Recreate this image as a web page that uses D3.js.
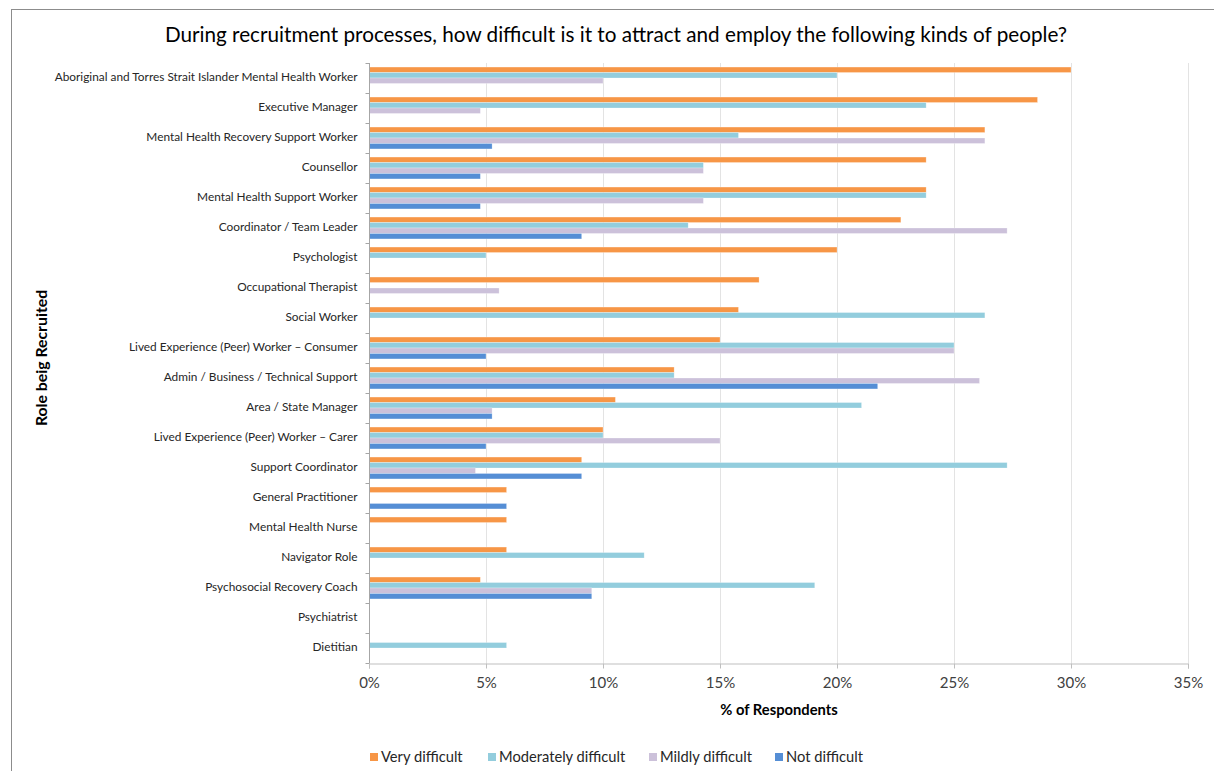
<!DOCTYPE html>
<html>
<head>
<meta charset="utf-8">
<script src="https://cdn.jsdelivr.net/npm/d3@7"></script>
<style>
  html, body { margin: 0; padding: 0; background: #fff; }
  svg { display: block; font-family: Lato, "Open Sans", "Noto Sans", sans-serif; }
</style>
</head>
<body>
<svg id="chart" width="1214" height="771"></svg>
<script>
// Roles, top to bottom
const roles = [
  "Aboriginal and Torres Strait Islander Mental Health Worker",
  "Executive Manager",
  "Mental Health Recovery Support Worker",
  "Counsellor",
  "Mental Health Support Worker",
  "Coordinator / Team Leader",
  "Psychologist",
  "Occupational Therapist",
  "Social Worker",
  "Lived Experience (Peer) Worker \u2013 Consumer",
  "Admin / Business / Technical Support",
  "Area / State Manager",
  "Lived Experience (Peer) Worker \u2013 Carer",
  "Support Coordinator",
  "General Practitioner",
  "Mental Health Nurse",
  "Navigator Role",
  "Psychosocial Recovery Coach",
  "Psychiatrist",
  "Dietitian"
];

const seriesNames = ["Very difficult", "Moderately difficult", "Mildly difficult", "Not difficult"];
const seriesColors = ["#F79646", "#93CDDD", "#CCC1DA", "#558ED5"];

// % of respondents per role
const veryDifficult       = [30.0, 28.57, 26.32, 23.81, 23.81, 22.73, 20.0, 16.67, 15.79, 15.0, 13.04, 10.53, 10.0, 9.09, 5.88, 5.88, 5.88, 4.76, 0, 0];
const moderatelyDifficult = [20.0, 23.81, 15.79, 14.29, 23.81, 13.64, 5.0, 0, 26.32, 25.0, 13.04, 21.05, 10.0, 27.27, 0, 0, 11.76, 19.05, 0, 5.88];
const mildlyDifficult     = [10.0, 4.76, 26.32, 14.29, 14.29, 27.27, 0, 5.56, 0, 25.0, 26.09, 5.26, 15.0, 4.55, 0, 0, 0, 9.52, 0, 0];
const notDifficult        = [0, 0, 5.26, 4.76, 4.76, 9.09, 0, 0, 0, 5.0, 21.74, 5.26, 5.0, 9.09, 5.88, 0, 0, 9.52, 0, 0];

const xTicks = [0, 5, 10, 15, 20, 25, 30, 35];

const seriesValues = [veryDifficult, moderatelyDifficult, mildlyDifficult, notDifficult];
const rows = roles.map((role, i) => ({
  role,
  values: seriesNames.map((s, k) => ({ series: s, k, value: seriesValues[k][i] }))
}));

const svg = d3.select("#chart");
const W = 1214, H = 771;
const m = { left: 369, right: 26, top: 63, bottom: 108 };

// chart frame
svg.append("rect")
  .attr("x", 11.5).attr("y", 9.5)
  .attr("width", W + 10).attr("height", H + 10)
  .attr("fill", "none").attr("stroke", "#8c8c8c").attr("stroke-width", 1);

const x = d3.scaleLinear().domain([0, 35]).range([m.left, W - m.right]);
const y = d3.scaleBand().domain(roles).range([m.top, H - m.bottom]).padding(0);
const inner = d3.scaleBand().domain(seriesNames)
  .range([y.bandwidth() * 0.135, y.bandwidth() * 0.865]).padding(0);
const color = d3.scaleOrdinal().domain(seriesNames).range(seriesColors);

// vertical gridlines
svg.append("g")
  .selectAll("line")
  .data(xTicks.slice(1))
  .join("line")
  .attr("x1", d => Math.round(x(d)) + 0.5).attr("x2", d => Math.round(x(d)) + 0.5)
  .attr("y1", m.top).attr("y2", H - m.bottom)
  .attr("stroke", "#e3e3e3").attr("stroke-width", 1);

// bars
const groups = svg.append("g")
  .selectAll("g")
  .data(rows)
  .join("g")
  .attr("transform", d => `translate(0,${y(d.role)})`);

groups.selectAll("rect")
  .data(d => d.values.filter(v => v.value > 0))
  .join("rect")
  .attr("x", x(0))
  .attr("y", d => inner(d.series))
  .attr("width", d => x(d.value) - x(0))
  .attr("height", inner.bandwidth())
  .attr("fill", d => color(d.series))
  .attr("stroke", "#ffffff").attr("stroke-opacity", 0.45).attr("stroke-width", 0.6);

// x axis
const xAxis = d3.axisBottom(x).tickValues(xTicks).tickFormat(d => d + "%").tickSize(5).tickPadding(9);
const gx = svg.append("g")
  .attr("transform", `translate(0,${H - m.bottom + 0.5})`)
  .call(xAxis);
gx.select(".domain").attr("stroke", "#bfbfbf");
gx.selectAll(".tick line").attr("stroke", "#bfbfbf");
gx.selectAll(".tick text")
  .attr("fill", "#404040").attr("font-size", 15)
  .style("font-family", "Lato, 'Open Sans', sans-serif");

// y axis (band boundaries as ticks, labels centred in each band)
const gy = svg.append("g").attr("transform", `translate(${m.left + 0.5},0)`);
gy.append("line")
  .attr("x1", 0).attr("x2", 0)
  .attr("y1", m.top).attr("y2", H - m.bottom)
  .attr("stroke", "#a6a6a6");
gy.selectAll("line.tk")
  .data(roles.map(r => y(r)).concat([H - m.bottom]))
  .join("line").attr("class", "tk")
  .attr("x1", -4).attr("x2", 0)
  .attr("y1", d => Math.round(d) + 0.5).attr("y2", d => Math.round(d) + 0.5)
  .attr("stroke", "#a6a6a6");
gy.selectAll("text")
  .data(roles)
  .join("text")
  .attr("x", -12)
  .attr("y", d => y(d) + y.bandwidth() / 2 - 1)
  .attr("dy", "0.35em")
  .attr("text-anchor", "end")
  .attr("font-size", 11.85)
  .attr("fill", "#262626")
  .text(d => d);

// title
svg.append("text")
  .attr("x", 616).attr("y", 42)
  .attr("text-anchor", "middle")
  .attr("font-size", 20.7)
  .attr("fill", "#000")
  .text("During recruitment processes, how difficult is it to attract and employ the following kinds of people?");

// axis titles
svg.append("text")
  .attr("x", 779).attr("y", 715)
  .attr("text-anchor", "middle")
  .attr("font-size", 14.75).attr("font-weight", "bold")
  .attr("fill", "#000")
  .text("% of Respondents");

svg.append("text")
  .attr("transform", "translate(47,358) rotate(-90)")
  .attr("text-anchor", "middle")
  .attr("font-size", 15.8).attr("font-weight", "bold")
  .attr("fill", "#000")
  .text("Role beig Recruited");

// legend
const legendX = [370, 488, 649, 775];
const lg = svg.append("g")
  .selectAll("g")
  .data(seriesNames)
  .join("g")
  .attr("transform", (d, i) => `translate(${legendX[i]},757)`);
lg.append("rect")
  .attr("x", 0).attr("y", -4).attr("width", 8).attr("height", 8)
  .attr("fill", d => color(d));
lg.append("text")
  .attr("x", 11).attr("y", 0).attr("dy", "0.35em")
  .attr("font-size", 14.7).attr("fill", "#262626")
  .text(d => d);
</script>
</body>
</html>
